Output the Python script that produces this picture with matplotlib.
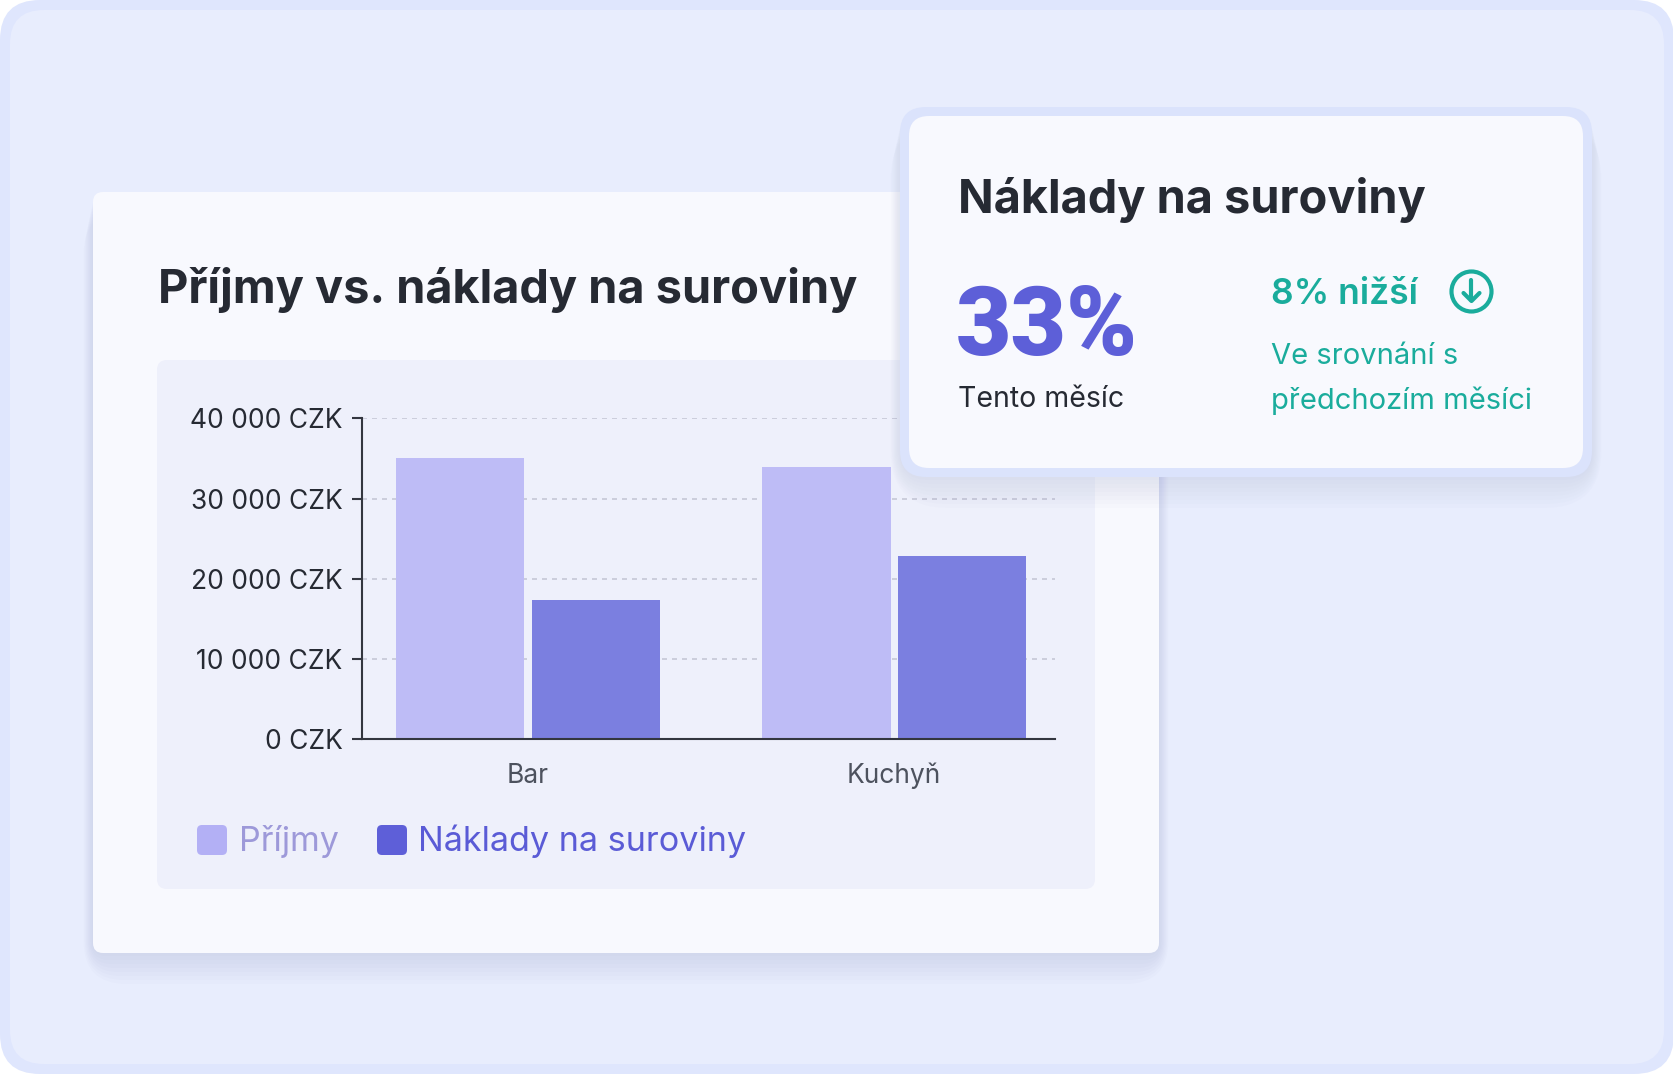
import matplotlib.pyplot as plt
from matplotlib.patches import FancyBboxPatch, Circle
import numpy as np

# data
categories = ["Bar", "Kuchyň"]
prijmy = [35100, 33900]
naklady = [17300, 22900]
yticks = [0, 10000, 20000, 30000, 40000]
ytick_labels = ["0 CZK", "10 000 CZK", "20 000 CZK", "30 000 CZK", "40 000 CZK"]
series_names = ["Příjmy", "Náklady na suroviny"]

W, H = 1674, 1074
FONT = "Inter"
DARK = "#262a33"
TEAL = "#1aac9c"

fig = plt.figure(figsize=(W / 100, H / 100), dpi=100)

# background layer in pixel coords
bg = fig.add_axes([0, 0, 1, 1], zorder=0)
bg.set_xlim(0, W)
bg.set_ylim(H, 0)
bg.axis("off")


def rbox(ax, x0, y0, x1, y1, r, **kw):
    p = FancyBboxPatch((x0 + r, y0 + r), x1 - x0 - 2 * r, y1 - y0 - 2 * r,
                       boxstyle="round,pad=%f" % r, **kw)
    ax.add_patch(p)
    return p


fig.patch.set_facecolor("white")
rbox(bg, 0, 0, W, H, 40, facecolor="#dfe6fd", edgecolor="none")
rbox(bg, 10, 10, W - 10, H - 10, 34, facecolor="#e8edfd", edgecolor="none")

# left card shadow + card
for i in range(8):
    g = 3 + i * 4
    rbox(bg, 93 - g * 0.3, 192 + g * 0.6, 1159 + g * 0.3, 953 + g, 12 + g,
         facecolor="#8e96c8", edgecolor="none", alpha=0.028)
rbox(bg, 93, 192, 1159, 953, 10, facecolor="#f8f9fe", edgecolor="none")
rbox(bg, 157, 360, 1095, 889, 10, facecolor="#eef0fb", edgecolor="none")

bg.text(158, 303, "Příjmy vs. náklady na suroviny", fontsize=33.8, fontweight="bold",
        color=DARK, family=FONT, va="baseline", ha="left")

# legend
rbox(bg, 197, 825, 227, 855, 5, facecolor="#b3b0f5", edgecolor="none")
bg.text(239, 851, series_names[0], fontsize=24.5, color="#9d99d9", family=FONT,
        va="baseline", ha="left")
rbox(bg, 377, 825, 407, 855, 5, facecolor="#5e5fd8", edgecolor="none")
bg.text(418, 851, series_names[1], fontsize=24.6, color="#5a5bd6", family=FONT,
        va="baseline", ha="left")

# chart axes
x0, x1, ytop, ybot = 362, 1055, 418.5, 739
ax = fig.add_axes([x0 / W, 1 - ybot / H, (x1 - x0) / W, (ybot - ytop) / H], zorder=1)
ax.patch.set_alpha(0)
x = np.arange(len(categories))
bw = 0.35
ax.bar(x - 0.185, prijmy, bw, color="#bebcf6", zorder=2)
ax.bar(x + 0.185, naklady, bw, color="#7b7fe0", zorder=2)
ax.set_xlim(-0.453, 1.439)
ax.set_ylim(0, 40000)
ax.set_yticks(yticks)
ax.set_yticklabels(ytick_labels, family=FONT, fontsize=19, color=DARK)
ax.set_xticks(x)
ax.set_xticklabels(categories, family=FONT, fontsize=19, color="#4d525e")
ax.tick_params(axis="y", length=7, width=1.5, color="#33363f", pad=7)
ax.tick_params(axis="x", length=0, pad=17)
for s in ["top", "right"]:
    ax.spines[s].set_visible(False)
for s in ["left", "bottom"]:
    ax.spines[s].set_color("#33363f")
    ax.spines[s].set_linewidth(1.5)
ax.grid(axis="y", color="#c6c8d6", linestyle=(0, (3, 3)), linewidth=1.2, zorder=0)

# right card overlay
ov = fig.add_axes([0, 0, 1, 1], zorder=2)
ov.set_xlim(0, W)
ov.set_ylim(H, 0)
ov.axis("off")
ov.patch.set_alpha(0)
for i in range(8):
    g = 3 + i * 4
    rbox(ov, 900 - g * 0.3, 107 + g * 0.5, 1592 + g * 0.3, 477 + g, 26 + g,
         facecolor="#8e96c8", edgecolor="none", alpha=0.025)
rbox(ov, 900, 107, 1592, 477, 26, facecolor="#dbe3fc", edgecolor="none")
rbox(ov, 909, 116, 1583, 468, 20, facecolor="#f8f9fe", edgecolor="none")

ov.text(958, 213, "Náklady na suroviny", fontsize=33.8, fontweight="bold",
        color=DARK, family=FONT, va="baseline", ha="left")
ov.text(956, 355, "33%", fontsize=69, fontweight="black", color="#5d5fd8",
        family="Roboto", va="baseline", ha="left")
ov.text(958, 407, "Tento měsíc", fontsize=20.5, color=DARK, family=FONT,
        va="baseline", ha="left")
ov.text(1271, 304, "8% nižší", fontsize=25.5, fontweight="semibold", color=TEAL,
        family=FONT, va="baseline", ha="left")
ov.text(1271, 364, "Ve srovnání s", fontsize=21, color=TEAL, family=FONT,
        va="baseline", ha="left")
ov.text(1271, 409, "předchozím měsíci", fontsize=21, color=TEAL, family=FONT,
        va="baseline", ha="left")

# down arrow icon
ov.add_patch(Circle((1471.5, 291.5), 20, facecolor="none", edgecolor=TEAL, lw=3))
ov.plot([1471.5, 1471.5], [280, 300], color=TEAL, lw=3, solid_capstyle="round")
ov.plot([1463.5, 1471.5, 1479.5], [293, 301, 293], color=TEAL, lw=3,
        solid_capstyle="round", solid_joinstyle="round")

fig.savefig("out.png", dpi=100)
